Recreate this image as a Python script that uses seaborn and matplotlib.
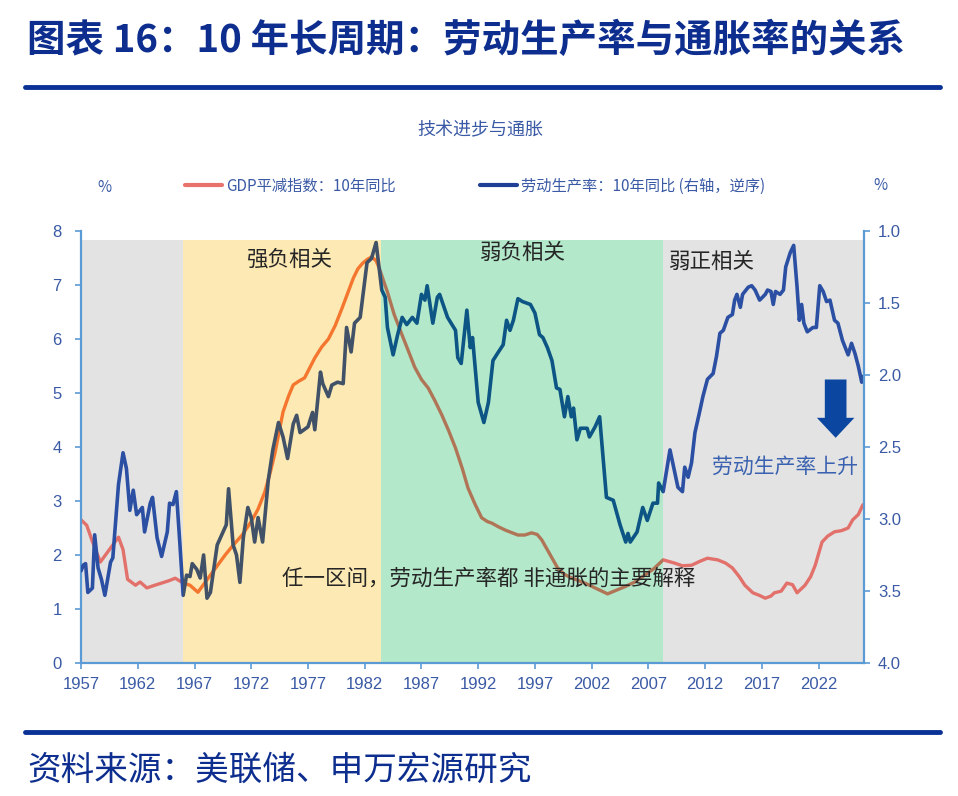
import numpy as np
import pandas as pd
import seaborn as sns
import matplotlib
matplotlib.use('Agg')
from matplotlib import pyplot as plt
from matplotlib import font_manager
from matplotlib.patches import Rectangle
from matplotlib.lines import Line2D
from matplotlib.ticker import FormatStrFormatter

# GDP平减指数：10年同比（左轴）
red_years = [1957.0, 1957.5, 1958.0, 1958.7, 1959.5, 1960.3, 1960.7, 1961.1, 1961.8, 1962.2,
             1962.8, 1963.5, 1964.1, 1964.7, 1965.3, 1966.0, 1966.6, 1967.3, 1968.2, 1969.0,
             1969.7, 1970.4, 1971.2, 1972.0, 1972.6, 1973.2, 1973.7, 1974.1, 1974.8, 1975.3,
             1975.7, 1976.2, 1976.7, 1977.6, 1978.2, 1978.8, 1979.4, 1980.0, 1980.5, 1981.0,
             1981.4, 1981.8, 1982.2, 1982.6, 1983.0, 1983.3, 1983.7, 1984.0, 1984.6, 1985.3,
             1985.9, 1986.4, 1987.0, 1987.6, 1988.2, 1988.8, 1989.4, 1990.0, 1990.6, 1991.1,
             1991.7, 1992.3, 1992.8, 1993.2, 1993.8, 1994.4, 1995.0, 1995.5, 1996.1, 1996.7,
             1997.2, 1997.6, 1998.3, 1999.0, 1999.6, 2000.3, 2001.4, 2002.4, 2003.4, 2004.2,
             2004.9, 2005.8, 2006.7, 2007.5, 2008.3, 2009.3, 2010.0, 2010.8, 2011.5, 2012.2,
             2013.1, 2013.8, 2014.4, 2015.0, 2015.5, 2016.2, 2016.8, 2017.3, 2017.8, 2018.1,
             2018.7, 2019.2, 2019.7, 2020.1, 2020.8, 2021.3, 2021.7, 2022.3, 2022.8, 2023.4,
             2024.0, 2024.6, 2025.0, 2025.5, 2025.9]
red_values = [2.65, 2.55, 2.25, 1.87, 2.10, 2.33, 2.10, 1.55, 1.44, 1.50,
              1.39, 1.44, 1.48, 1.52, 1.57, 1.48, 1.44, 1.31, 1.57, 1.80,
              2.00, 2.18, 2.37, 2.62, 2.85, 3.17, 3.55, 3.90, 4.65, 4.95,
              5.15, 5.22, 5.28, 5.65, 5.85, 6.00, 6.25, 6.57, 6.85, 7.13,
              7.30, 7.40, 7.47, 7.52, 7.45, 7.30, 7.05, 6.87, 6.45, 6.07,
              5.75, 5.48, 5.25, 5.09, 4.85, 4.59, 4.30, 3.98, 3.60, 3.24,
              2.95, 2.69, 2.62, 2.59, 2.52, 2.46, 2.41, 2.37, 2.37, 2.41,
              2.38, 2.28, 2.02, 1.76, 1.64, 1.57, 1.48, 1.38, 1.28, 1.35,
              1.41, 1.50, 1.63, 1.75, 1.91, 1.85, 1.80, 1.81, 1.88, 1.94,
              1.91, 1.85, 1.76, 1.60, 1.44, 1.30, 1.25, 1.20, 1.24, 1.30,
              1.33, 1.48, 1.45, 1.30, 1.44, 1.60, 1.81, 2.24, 2.35, 2.43,
              2.45, 2.50, 2.65, 2.75, 2.93]

# 劳动生产率：10年同比（右轴，逆序）
blue_years = [1957.0, 1957.2, 1957.4, 1957.6, 1958.0, 1958.2, 1958.5, 1958.8, 1959.1, 1959.6,
              1959.8, 1960.3, 1960.7, 1961.0, 1961.3, 1961.6, 1961.9, 1962.4, 1962.6, 1963.1,
              1963.3, 1963.7, 1964.1, 1964.6, 1964.8, 1965.1, 1965.4, 1965.7, 1966.0, 1966.3,
              1966.6, 1966.8, 1967.2, 1967.5, 1967.8, 1968.1, 1968.4, 1969.0, 1969.4, 1969.8,
              1970.0, 1970.4, 1970.7, 1971.0, 1971.3, 1971.7, 1972.0, 1972.3, 1972.6, 1973.0,
              1973.5, 1973.9, 1974.4, 1974.8, 1975.2, 1975.7, 1976.0, 1976.3, 1977.0, 1977.4,
              1977.6, 1978.1, 1978.3, 1978.8, 1979.1, 1979.6, 1980.1, 1980.4, 1980.8, 1981.1,
              1981.6, 1982.2, 1982.6, 1983.0, 1983.5, 1983.8, 1984.0, 1984.5, 1984.9, 1985.3,
              1985.7, 1986.2, 1986.6, 1987.0, 1987.3, 1987.5, 1988.0, 1988.4, 1988.6, 1989.3,
              1990.0, 1990.2, 1990.5, 1991.0, 1991.3, 1991.5, 1992.0, 1992.5, 1992.9, 1993.3,
              1993.7, 1994.2, 1994.5, 1994.8, 1995.1, 1995.5, 1995.9, 1996.6, 1997.0, 1997.4,
              1997.7, 1998.1, 1998.5, 1998.9, 1999.2, 1999.6, 1999.9, 2000.2, 2000.4, 2000.7,
              2001.0, 2001.6, 2001.8, 2002.3, 2002.7, 2003.3, 2003.9, 2004.5, 2005.0, 2005.2,
              2005.4, 2006.0, 2006.5, 2006.9, 2007.4, 2007.8, 2007.9, 2008.3, 2008.9, 2009.6,
              2010.0, 2010.2, 2010.5, 2010.8, 2011.1, 2011.5, 2011.8, 2012.2, 2012.7, 2013.0,
              2013.3, 2013.6, 2014.0, 2014.4, 2014.6, 2014.8, 2015.1, 2015.3, 2015.8, 2016.1,
              2016.4, 2016.8, 2017.3, 2017.5, 2017.8, 2018.0, 2018.2, 2018.6, 2018.9, 2019.1,
              2019.5, 2019.8, 2020.1, 2020.3, 2020.5, 2020.7, 2021.0, 2021.5, 2021.8, 2022.1,
              2022.4, 2022.7, 2023.0, 2023.4, 2023.7, 2024.1, 2024.6, 2024.9, 2025.2, 2025.5,
              2025.8, 2025.9]
blue_values = [3.36, 3.32, 3.31, 3.51, 3.48, 3.11, 3.34, 3.42, 3.53, 3.30,
               3.27, 2.76, 2.54, 2.65, 2.94, 2.80, 2.97, 2.92, 3.09, 2.89,
               2.85, 3.13, 3.26, 3.09, 2.89, 2.90, 2.81, 3.16, 3.53, 3.39,
               3.40, 3.31, 3.35, 3.41, 3.25, 3.55, 3.51, 3.18, 3.11, 3.04,
               2.79, 3.18, 3.25, 3.44, 3.13, 2.92, 2.99, 3.16, 2.99, 3.16,
               2.73, 2.52, 2.33, 2.43, 2.58, 2.34, 2.28, 2.40, 2.36, 2.26,
               2.38, 1.98, 2.06, 2.15, 2.07, 2.05, 2.06, 1.67, 1.84, 1.64,
               1.60, 1.22, 1.19, 1.08, 1.41, 1.46, 1.67, 1.86, 1.72, 1.60,
               1.65, 1.60, 1.64, 1.44, 1.48, 1.38, 1.64, 1.46, 1.44, 1.60,
               1.69, 1.88, 1.92, 1.55, 1.81, 1.74, 2.19, 2.33, 2.19, 1.90,
               1.85, 1.79, 1.62, 1.69, 1.62, 1.47, 1.49, 1.51, 1.57, 1.72,
               1.74, 1.81, 1.90, 2.09, 2.10, 2.29, 2.15, 2.29, 2.23, 2.45,
               2.37, 2.37, 2.43, 2.36, 2.29, 2.85, 2.87, 3.04, 3.16, 3.10,
               3.16, 3.09, 2.92, 3.01, 2.89, 2.89, 2.75, 2.81, 2.52, 2.78,
               2.81, 2.64, 2.71, 2.61, 2.40, 2.26, 2.15, 2.03, 1.99, 1.87,
               1.71, 1.69, 1.60, 1.58, 1.48, 1.44, 1.53, 1.44, 1.39, 1.38,
               1.41, 1.48, 1.44, 1.41, 1.42, 1.51, 1.42, 1.44, 1.41, 1.25,
               1.15, 1.10, 1.39, 1.62, 1.51, 1.64, 1.70, 1.67, 1.67, 1.38,
               1.42, 1.49, 1.48, 1.62, 1.64, 1.76, 1.86, 1.78, 1.85, 1.94,
               2.05, 2.01]

# 分区：强负相关 / 弱负相关 / 弱正相关
region_edges = [1957.0, 1966.0, 1983.4, 2008.3, 2026.0]
region_labels = ['', '强负相关', '弱负相关', '弱正相关']
region_label_pos = [(None, None), (1975.4, 7.46), (1995.9, 7.6), (2012.6, 7.43)]

x_ticks = list(range(1957, 2026, 5))
left_ticks = list(range(0, 9))
right_ticks = [1.0, 1.5, 2.0, 2.5, 3.0, 3.5, 4.0]

region_colors = ['#E3E3E3', '#FDE9B3', '#B3E8CA', '#E3E3E3']
red_colors = ['#E2706B', '#F4762F', '#B07556', '#E2706B']
blue_colors = ['#2B4FA3', '#415268', '#0C5584', '#2B4FA3']
tick_color = '#3A5AA5'
spine_color = '#5B9BD5'
navy = '#0D2E8E'

sns.set_style('white')
names = {f.name for f in font_manager.fontManager.ttflist}
narrow = 'Liberation Sans Narrow' if 'Liberation Sans Narrow' in names else 'Liberation Sans'
plt.rcParams['font.family'] = ['Noto Sans CJK SC', 'DejaVu Sans']
plt.rcParams['axes.unicode_minus'] = False

red_df = pd.DataFrame({'year': red_years, 'value': red_values})
blue_df = pd.DataFrame({'year': blue_years, 'value': blue_values})

fig = plt.figure(figsize=(9.58, 7.96), dpi=100)
ax = fig.add_axes([0.0846, 0.1671, 0.8173, 0.5427])
ax2 = ax.twinx()

# 背景分区
lefts = region_edges[:-1]
widths = np.diff(region_edges)
ax.bar(lefts, 7.83, width=widths, align='edge', color=region_colors, lw=0, zorder=0)

# 每个分区内的线条颜色不同（半透明底色叠加效果）
for i in range(len(lefts)):
    x0, x1 = region_edges[i], region_edges[i + 1]
    sns.lineplot(data=red_df, x='year', y='value', ax=ax, color=red_colors[i], lw=2.4, legend=False)
    ax.lines[-1].set_clip_path(Rectangle((x0, -5), x1 - x0, 20, transform=ax.transData))
    sns.lineplot(data=blue_df, x='year', y='value', ax=ax2, color=blue_colors[i], lw=2.6, legend=False)
    ax2.lines[-1].set_clip_path(Rectangle((x0, -5), x1 - x0, 20, transform=ax2.transData))

ax.set_xlim(region_edges[0], region_edges[-1])
ax.set_ylim(0, 8)
ax2.set_ylim(4, 1)
ax.set_xlabel('')
ax.set_ylabel('')
ax2.set_ylabel('')

ax.set_xticks(x_ticks)
ax.set_yticks(left_ticks)
ax2.set_yticks(right_ticks)
ax2.yaxis.set_major_formatter(FormatStrFormatter('%.1f'))

for s in ['top', 'right']:
    ax.spines[s].set_visible(False)
for s in ['top', 'left', 'bottom']:
    ax2.spines[s].set_visible(False)
for a, s in [(ax, 'left'), (ax, 'bottom'), (ax2, 'right')]:
    a.spines[s].set_color(spine_color)
    a.spines[s].set_linewidth(1.6)

ax.tick_params(axis='x', direction='out', length=4, width=1.2, color=spine_color,
               labelcolor=tick_color, labelsize=12, pad=6, bottom=True)
ax.tick_params(axis='y', direction='out', length=4, width=1.2, color=spine_color,
               labelcolor=tick_color, labelsize=12, pad=10, left=True)
ax2.tick_params(axis='y', direction='out', length=4, width=1.2, color=spine_color,
                labelcolor=tick_color, labelsize=12, pad=6, right=True)
for lab in ax.get_xticklabels() + ax.get_yticklabels() + ax2.get_yticklabels():
    lab.set_fontfamily(narrow)

# 区间标注
for lab, (xp, yp) in zip(region_labels, region_label_pos):
    if lab:
        ax2.text(xp, yp, lab, transform=ax.transData, ha='center', va='center',
                 fontsize=15.5, color='#262626')
ax2.text(1992.9, 1.57, '任一区间，劳动生产率都 非通胀的主要解释', transform=ax.transData,
         ha='center', va='center', fontsize=15.5, color='#262626')
ax2.text(2019.0, 3.63, '劳动生产率上升', transform=ax.transData, ha='center', va='center',
         fontsize=15, color='#3A62B0')
ax.annotate('', xy=(2023.5, 4.17), xytext=(2023.5, 5.25),
            arrowprops=dict(arrowstyle='simple,head_width=1.35,head_length=0.72,tail_width=0.78',
                            mutation_scale=20, color='#0B47A1', shrinkA=0, shrinkB=0, lw=0))

# 图例与单位
handles = [Line2D([0], [0], color='#E8736C', lw=3), Line2D([0], [0], color='#1F3E96', lw=3)]
fig.legend(handles, ['GDP平减指数：10年同比', '劳动生产率：10年同比 (右轴，逆序)'],
           loc='center', bbox_to_anchor=(0.496, 0.766), ncol=2, frameon=False, fontsize=11,
           handlelength=2.4, handletextpad=0.3, columnspacing=5.5, labelcolor=tick_color)
fig.text(104 / 958, 1 - 188 / 796, '%', ha='center', va='center', fontsize=11, color=tick_color)
fig.text(880 / 958, 1 - 186 / 796, '%', ha='center', va='center', fontsize=11, color=tick_color)
fig.text(0.501, 1 - 130 / 796, '技术进步与通胀', ha='center', va='center', fontsize=13, color=tick_color)

# 标题、分隔线、来源
fig.text(27 / 958, 1 - 40 / 796, '图表 16：10 年长周期：劳动生产率与通胀率的关系',
         ha='left', va='center', fontsize=27.7, fontweight='bold', color=navy)
for yy in [87, 732]:
    fig.add_artist(Line2D([25 / 958, 940 / 958], [1 - yy / 796] * 2, color='#0A3296',
                          lw=3.5, transform=fig.transFigure))
fig.text(27 / 958, 1 - 770 / 796, '资料来源：美联储、申万宏源研究',
         ha='left', va='center', fontsize=24.2, color=navy)

fig.savefig('out.png', dpi=100)
